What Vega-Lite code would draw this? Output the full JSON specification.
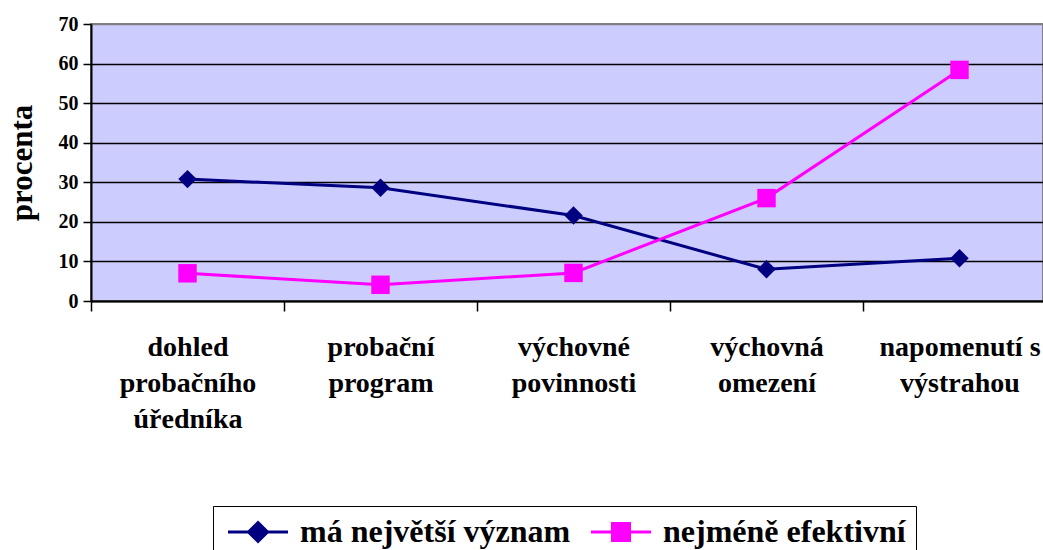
{
  "$schema": "https://vega.github.io/schema/vega-lite/v6.json",
  "width": 952,
  "height": 277,
  "autosize": {"type": "none"},
  "padding": {"left": 91, "top": 24, "right": 0, "bottom": 249},
  "background": "white",
  "config": {
    "view": {"fill": "#CCCCFF", "stroke": "#808080", "strokeWidth": 2},
    "font": "Liberation Serif",
    "axis": {"labelFont": "Liberation Serif", "titleFont": "Liberation Serif"},
    "legend": {"labelFont": "Liberation Serif"}
  },
  "data": {
    "values": [
      {"kat": "dohled\nprobačního\núředníka", "serie": "má největší význam", "hodnota": 30.8},
      {"kat": "probační\nprogram", "serie": "má největší význam", "hodnota": 28.6},
      {"kat": "výchovné\npovinnosti", "serie": "má největší význam", "hodnota": 21.6},
      {"kat": "výchovná\nomezení", "serie": "má největší význam", "hodnota": 8.0},
      {"kat": "napomenutí s\nvýstrahou", "serie": "má největší význam", "hodnota": 10.8},
      {"kat": "dohled\nprobačního\núředníka", "serie": "nejméně efektivní", "hodnota": 7.0},
      {"kat": "probační\nprogram", "serie": "nejméně efektivní", "hodnota": 4.1},
      {"kat": "výchovné\npovinnosti", "serie": "nejméně efektivní", "hodnota": 7.1},
      {"kat": "výchovná\nomezení", "serie": "nejméně efektivní", "hodnota": 26.0},
      {"kat": "napomenutí s\nvýstrahou", "serie": "nejméně efektivní", "hodnota": 58.4}
    ]
  },
  "encoding": {
    "x": {
      "field": "kat",
      "type": "nominal",
      "sort": null,
      "scale": {"range": [0, 965], "paddingInner": 0, "paddingOuter": 0},
      "axis": {
        "title": null,
        "tickBand": "extent",
        "labelAngle": 0,
        "labelExpr": "split(datum.label, '\\n')",
        "labelFont": "Liberation Serif",
        "labelFontWeight": "bold",
        "labelFontSize": 28,
        "labelColor": "black",
        "labelLineHeight": 36,
        "labelPadding": 22,
        "labelBaseline": "top",
        "labelLimit": 300,
        "tickSize": 10,
        "tickColor": "black",
        "tickWidth": 1.5,
        "domainColor": "black",
        "domainWidth": 2
      }
    },
    "y": {
      "field": "hodnota",
      "type": "quantitative",
      "scale": {"domain": [0, 70], "nice": false},
      "axis": {
        "title": "procenta",
        "titleFont": "Liberation Serif",
        "titleFontSize": 31,
        "titleFontWeight": "bold",
        "titleColor": "black",
        "titlePadding": 20,
        "values": [0, 10, 20, 30, 40, 50, 60, 70],
        "labelFont": "Liberation Serif",
        "labelFontSize": 20,
        "labelFontWeight": "bold",
        "labelColor": "black",
        "labelPadding": 5,
        "tickSize": 8,
        "tickColor": "black",
        "tickWidth": 1.5,
        "domainColor": "black",
        "domainWidth": 2,
        "grid": true,
        "gridColor": {"condition": {"test": "datum.value == 70", "value": "#808080"}, "value": "black"},
        "gridWidth": 1.5,
        "gridOpacity": 1
      }
    },
    "color": {
      "field": "serie",
      "type": "nominal",
      "sort": ["má největší význam", "nejméně efektivní"],
      "scale": {"range": ["#000080", "#FF00FF"]},
      "legend": {
        "orient": "none",
        "legendX": 122,
        "legendY": 482,
        "direction": "horizontal",
        "title": null,
        "strokeColor": "black",
        "fillColor": "white",
        "padding": 10,
        "labelFont": "Liberation Serif",
        "labelFontSize": 32,
        "labelFontWeight": "bold",
        "labelColor": "black",
        "labelLimit": 500,
        "symbolSize": 400,
        "symbolStrokeWidth": 3,
        "symbolOffset": 19,
        "labelOffset": 26,
        "columnPadding": 14,
        "encode": {
          "symbols": {
            "update": {
              "shape": {"signal": "datum.value == 'má největší význam' ? 'M-3,0H3M0,-0.95L0.95,0L0,0.95L-0.95,0Z' : 'M-3,0H3M-0.85,-0.85H0.85V0.85H-0.85Z'"},
              "fill": {"signal": "datum.value == 'má největší význam' ? '#000080' : '#FF00FF'"},
              "stroke": {"signal": "datum.value == 'má největší význam' ? '#000080' : '#FF00FF'"},
              "opacity": {"value": 1},
              "fillOpacity": {"value": 1}
            }
          }
        }
      }
    }
  },
  "layer": [
    {"mark": {"type": "line", "strokeWidth": 3}},
    {
      "mark": {"type": "point", "filled": true, "opacity": 1, "size": 340},
      "encoding": {
        "shape": {
          "field": "serie",
          "type": "nominal",
          "sort": ["má největší význam", "nejméně efektivní"],
          "scale": {"range": ["diamond", "square"]},
          "legend": null
        }
      }
    }
  ]
}
